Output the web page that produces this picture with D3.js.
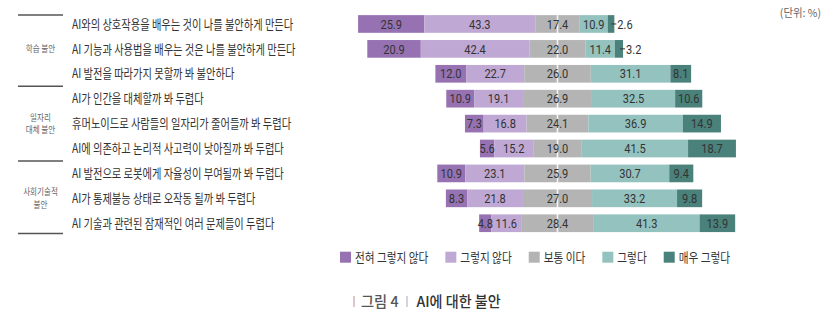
<!DOCTYPE html>
<html><head><meta charset="utf-8">
<script src="https://cdn.jsdelivr.net/npm/d3@7/dist/d3.min.js"></script>
<style>body{margin:0;background:#fff;overflow:hidden}</style>
</head><body><svg id="c" width="833" height="327"></svg>
<script>
const categories = [
  "AI와의 상호작용을 배우는 것이 나를 불안하게 만든다",
  "AI 기능과 사용법을 배우는 것은 나를 불안하게 만든다",
  "AI 발전을 따라가지 못할까 봐 불안하다",
  "AI가 인간을 대체할까 봐 두렵다",
  "휴머노이드로 사람들의 일자리가 줄어들까 봐 두렵다",
  "AI에 의존하고 논리적 사고력이 낮아질까 봐 두렵다",
  "AI 발전으로 로봇에게 자율성이 부여될까 봐 두렵다",
  "AI가 통제불능 상태로 오작동 될까 봐 두렵다",
  "AI 기술과 관련된 잠재적인 여러 문제들이 두렵다"
];
const groupLabels = [["학습 불안"], ["일자리", "대체 불안"], ["사회기술적", "불안"]];
const groupSizes = [3, 3, 3];
const seriesNames = ["전혀 그렇지 않다", "그렇지 않다", "보통 이다", "그렇다", "매우 그렇다"];
const s1 = [25.9, 20.9, 12.0, 10.9, 7.3, 5.6, 10.9, 8.3, 4.8];
const s2 = [43.3, 42.4, 22.7, 19.1, 16.8, 15.2, 23.1, 21.8, 11.6];
const s3 = [17.4, 22.0, 26.0, 26.9, 24.1, 19.0, 25.9, 27.0, 28.4];
const s4 = [10.9, 11.4, 31.1, 32.5, 36.9, 41.5, 30.7, 33.2, 41.3];
const s5 = [2.6, 3.2, 8.1, 10.6, 14.9, 18.7, 9.4, 9.8, 13.9];
const unitLabel = "(단위: %)";
const figNo = "그림 4";
const figTitle = "AI에 대한 불안";

const series = [s1, s2, s3, s4, s5];
const colors = ["#9672b2", "#bfa8d4", "#b4b4b4", "#94c2bf", "#4b817b"];
const KR = "'Noto Sans CJK KR','Noto Sans',sans-serif";
const NUM = "Roboto,'Noto Sans',sans-serif";

const svg = d3.select("#c");
const x = d3.scaleLinear().domain([-100, 100]).range([301.5, 813.5]);
const y = d3.scaleBand().domain(d3.range(categories.length)).range([7.9, 239.3]).paddingInner(0.29).paddingOuter(0.29);
const bw = y.bandwidth();

function stext(g, px, py, str, size, sx, font) {
  return g.append("text")
    .attr("transform", `translate(${px},${py}) scale(${sx},1)`)
    .attr("font-family", font || KR)
    .attr("font-size", size)
    .text(str);
}

// segments
const segs = [];
categories.forEach((c, i) => {
  let start = -(s1[i] + s2[i] + s3[i] / 2);
  series.forEach((s, k) => {
    segs.push({ i, k, v: s[i], x0: start, x1: start + s[i] });
    start += s[i];
  });
});

const gBars = svg.append("g");
gBars.selectAll("rect").data(segs).join("rect")
  .attr("x", d => x(d.x0))
  .attr("width", d => x(d.x1) - x(d.x0))
  .attr("y", d => y(d.i))
  .attr("height", bw)
  .attr("fill", d => colors[d.k]);

// center line
svg.append("line")
  .attr("x1", x(0)).attr("x2", x(0))
  .attr("y1", y(0)).attr("y2", y(categories.length - 1) + bw)
  .attr("stroke", "#fff").attr("stroke-width", 1.6).attr("opacity", 0.85);

// value labels
const gLab = svg.append("g");
segs.forEach(d => {
  const w = x(d.x1) - x(d.x0);
  const cy = y(d.i) + bw / 2;
  if (w < 10) {
    const xe = x(d.x1);
    gLab.append("line").attr("x1", xe - 3).attr("x2", xe + 2).attr("y1", cy).attr("y2", cy)
      .attr("stroke", "#333").attr("stroke-width", 1);
    stext(gLab, xe + 3, cy, d.v.toFixed(1), 13, 0.85, NUM)
      .attr("dy", "0.36em").attr("fill", "#333");
  } else {
    stext(gLab, (x(d.x0) + x(d.x1)) / 2, cy, d.v.toFixed(1), 13, 0.85, NUM)
      .attr("dy", "0.36em").attr("text-anchor", "middle").attr("fill", "#333");
  }
});

// category labels
const gCat = svg.append("g");
categories.forEach((c, i) => {
  stext(gCat, 72, y(i) + bw / 2, c, 13, 0.79).attr("dy", "0.36em").attr("fill", "#333");
});

// group labels and separators
const gGrp = svg.append("g");
let acc = 0;
const sepY = [y(0)];
groupLabels.forEach((lab, gi) => {
  const first = acc, last = acc + groupSizes[gi] - 1;
  const mid = (y(first) + y(last) + bw) / 2;
  const lh = 12.5;
  lab.forEach((t, li) => {
    stext(gGrp, 40.5, mid + (li - (lab.length - 1) / 2) * lh, t, 9, 0.84)
      .attr("dy", "0.36em").attr("text-anchor", "middle").attr("fill", "#666");
  });
  acc += groupSizes[gi];
  if (gi < groupLabels.length - 1) sepY.push((y(last) + bw + y(last + 1)) / 2);
  else sepY.push(y(last) + bw + 1.5);
});
sepY.forEach(v => {
  gGrp.append("line").attr("x1", 18).attr("x2", 63).attr("y1", v).attr("y2", v)
    .attr("stroke", "#555").attr("stroke-width", 1.5);
});

// unit
stext(svg, 821, 13, unitLabel, 11, 0.95).attr("dy", "0.36em").attr("text-anchor", "end").attr("fill", "#666");

// legend
const gLeg = svg.append("g");
let lx = 340;
seriesNames.forEach((n, k) => {
  gLeg.append("rect").attr("x", lx).attr("y", 251.7).attr("width", 11).attr("height", 11).attr("fill", colors[k]);
  const t = stext(gLeg, lx + 15, 257.2, n, 13, 0.82).attr("dy", "0.36em").attr("fill", "#333");
  const w = t.node().getComputedTextLength() * 0.82;
  lx += 15 + w + 17;
});

// title
const gT = svg.append("g");
gT.append("line").attr("x1", 354).attr("x2", 354).attr("y1", 296).attr("y2", 307).attr("stroke", "#d6b4b4").attr("stroke-width", 1.5);
stext(gT, 361, 301.5, figNo, 15, 0.95).attr("dy", "0.36em").attr("fill", "#555").attr("font-weight", 500);
gT.append("line").attr("x1", 407).attr("x2", 407).attr("y1", 296).attr("y2", 307).attr("stroke", "#c4c6d6").attr("stroke-width", 1.5);
stext(gT, 416.5, 301.5, figTitle, 15, 0.94).attr("dy", "0.36em").attr("fill", "#333").attr("font-weight", 500);
</script>
</body></html>
